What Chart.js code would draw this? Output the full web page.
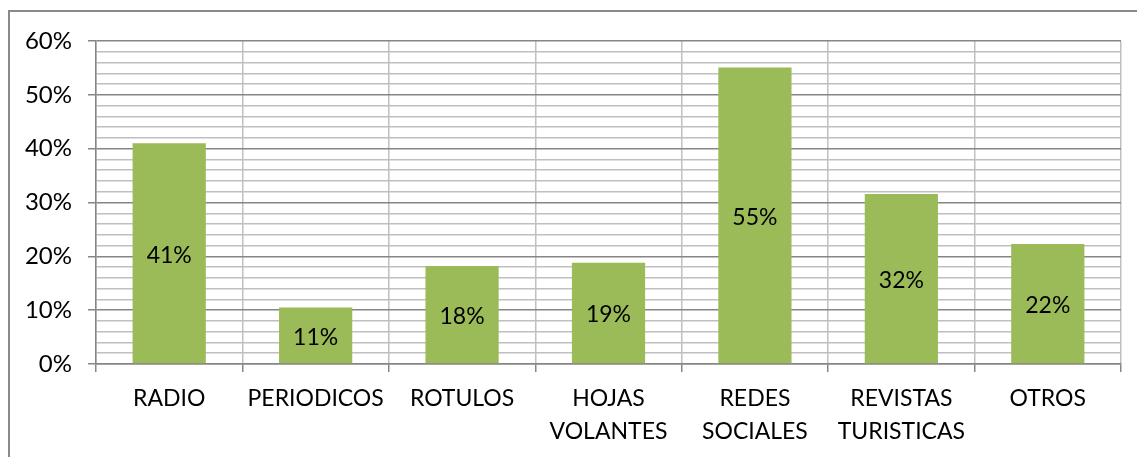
<!DOCTYPE html>
<html>
<head>
<meta charset="utf-8">
<script src="https://cdn.jsdelivr.net/npm/chart.js@4/dist/chart.umd.min.js"></script>
<style>
html,body{margin:0;padding:0;background:#fff;}
#wrap{position:relative;width:1137px;height:457px;}
</style>
</head>
<body>
<div id="wrap"><canvas id="c" width="1137" height="457"></canvas></div>
<script>
const categories = [['RADIO'], ['PERIODICOS'], ['ROTULOS'], ['HOJAS', 'VOLANTES'], ['REDES', 'SOCIALES'], ['REVISTAS', 'TURISTICAS'], ['OTROS']];
const values = [41, 10.5, 18.2, 18.8, 55.1, 31.6, 22.3];
const yTicks = [0, 10, 20, 30, 40, 50, 60];

const FONT = 'Lato, "Open Sans", sans-serif';

const frame = {
  id: 'frame',
  beforeDraw(chart) {
    const ctx = chart.ctx;
    ctx.save();
    ctx.strokeStyle = '#898989';
    ctx.lineWidth = 2;
    ctx.beginPath();
    ctx.moveTo(9, 470);
    ctx.lineTo(9, 11);
    ctx.lineTo(1150, 11);
    ctx.stroke();
    ctx.restore();
  }
};

const barLabels = {
  id: 'barLabels',
  afterDatasetsDraw(chart) {
    const ctx = chart.ctx;
    const meta = chart.getDatasetMeta(0);
    ctx.save();
    ctx.font = '23px ' + FONT;
    ctx.fillStyle = '#000';
    ctx.textAlign = 'center';
    ctx.textBaseline = 'middle';
    meta.data.forEach((el, i) => {
      const v = chart.data.datasets[0].data[i];
      ctx.fillText(Math.round(v) + '%', el.x, (el.y + el.base) / 2 + 2);
    });
    ctx.restore();
  }
};

new Chart(document.getElementById('c'), {
  type: 'bar',
  data: {
    labels: categories,
    datasets: [{
      data: values,
      backgroundColor: '#9BBB59',
      borderWidth: 0,
      barPercentage: 0.5,
      categoryPercentage: 1.0
    }]
  },
  options: {
    responsive: false,
    animation: false,
    events: [],
    layout: { padding: { left: 0, top: 41, right: 16, bottom: 13 } },
    plugins: { legend: { display: false }, tooltip: { enabled: false } },
    scales: {
      x: {
        afterFit(s) { s.height = 80; },
        grid: {
          offset: true,
          color: '#c0c0c0',
          lineWidth: 1.5,
          tickColor: '#868686',
          tickLength: 8,
          drawOnChartArea: true
        },
        border: { color: '#868686', width: 1.5 },
        ticks: {
          color: '#000',
          padding: 10,
          maxRotation: 0,
          autoSkip: false,
          font: { family: FONT, size: 23, lineHeight: '33px' }
        }
      },
      y: {
        min: 0,
        max: 60,
        afterFit(s) { s.width = 96; },
        afterBuildTicks(s) {
          const t = [];
          for (let v = 0; v <= 60; v += 2) t.push({ value: v });
          s.ticks = t;
        },
        grid: {
          color: (c) => (c.tick && yTicks.includes(c.tick.value)) ? '#868686' : '#bfbfbf',
          lineWidth: 1.5,
          tickColor: (c) => (c.tick && yTicks.includes(c.tick.value)) ? '#868686' : 'rgba(0,0,0,0)',
          tickLength: 8
        },
        border: { color: '#868686', width: 1.5 },
        ticks: {
          color: '#000',
          padding: 16,
          autoSkip: false,
          font: { family: FONT, size: 24 },
          callback: (v) => yTicks.includes(v) ? v + '%' : ''
        }
      }
    }
  },
  plugins: [frame, barLabels]
});
</script>
</body>
</html>
